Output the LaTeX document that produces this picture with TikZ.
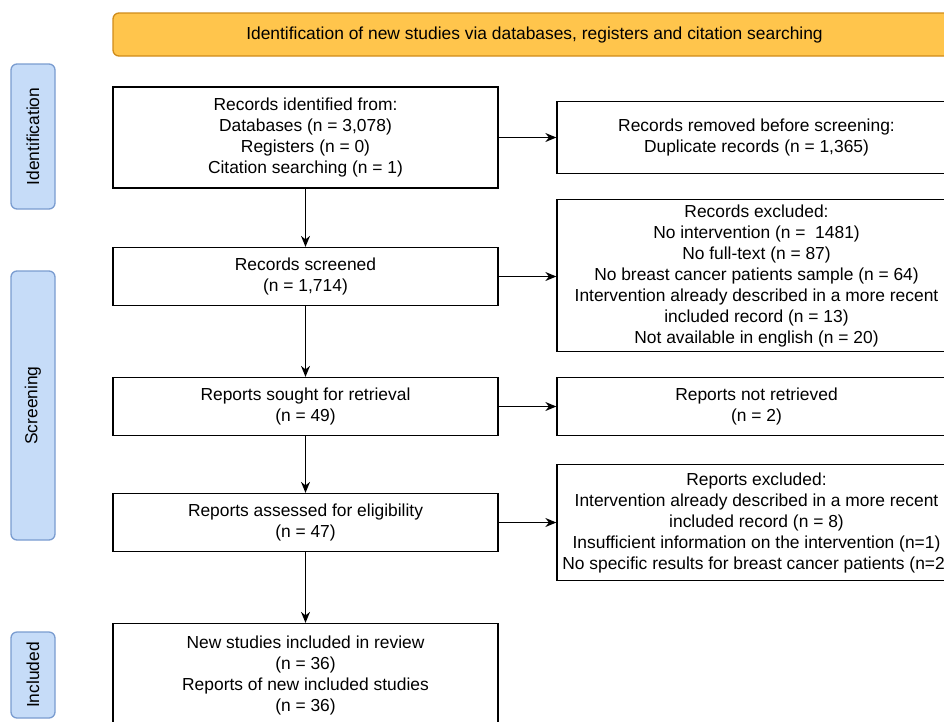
\documentclass[tikz,border=0pt]{standalone}
\usepackage{fontspec}
\setmainfont{Liberation Sans}
\usetikzlibrary{arrows.meta}
\definecolor{bannerfill}{HTML}{FFC54C}
\definecolor{bannerline}{HTML}{D08C1A}
\definecolor{tabfill}{HTML}{C6DCF8}
\definecolor{tabline}{HTML}{7A9CD0}
\begin{document}
\begin{tikzpicture}[x=1pt,y=-1pt,
  every node/.style={font=\fontsize{17.4}{21}\selectfont, inner sep=0pt, align=center},
  box/.style={draw=black, line width=1.3pt, fill=white, minimum width=385pt},
  rbox/.style={draw=black, line width=1.3pt, fill=white, minimum width=399pt},
  banner/.style={draw=bannerline, line width=1.3pt, fill=bannerfill, rounded corners=6pt},
  phase/.style={draw=tabline, line width=1.3pt, fill=tabfill, rounded corners=6pt, minimum height=44pt, rotate=90},
  arr/.style={draw=black, line width=1.3pt, -{Stealth[length=11pt,width=9pt]}}]
\useasboundingbox (0,0) rectangle (944,721);
\clip (0,0) rectangle (944,721);

\node[banner, minimum width=843pt, minimum height=43pt] (ban) at (534.5,34.5) {Identification of new studies via databases, registers and citation searching};

\node[phase, minimum width=145pt] (tid) at (33,136.5) {Identification};
\node[phase, minimum width=269pt] (tsc) at (33,405.5) {Screening};
\node[phase, minimum width=86pt] (tin) at (33,675) {Included};

\node[box, minimum height=101pt] (b1) at (305.5,137.5) {Records identified from:\\Databases (n = 3,078)\\Registers (n = 0)\\Citation searching (n = 1)};
\node[box, minimum height=58pt] (b2) at (305.5,276.5) {Records screened\\(n = 1,714)};
\node[box, minimum height=58pt] (b3) at (305.5,406.5) {Reports sought for retrieval\\(n = 49)};
\node[box, minimum height=58pt] (b4) at (305.5,522.5) {Reports assessed for eligibility\\(n = 47)};
\node[box, minimum height=104pt] (b5) at (305.5,675.5) {New studies included in review\\(n = 36)\\Reports of new included studies\\(n = 36)};

\node[rbox, minimum height=72pt] (r1) at (756.5,137.5) {Records removed before screening:\\Duplicate records (n = 1,365)};
\node[rbox, minimum height=152pt] (r2) at (756.5,275.5) {Records excluded:\\No intervention (n = \ 1481)\\No full-text (n = 87)\\No breast cancer patients sample (n = 64)\\Intervention already described in a more recent\\included record (n = 13)\\Not available in english (n = 20)};
\node[rbox, minimum height=58pt] (r3) at (756.5,406.5) {Reports not retrieved\\(n = 2)};
\node[rbox, minimum height=116pt] (r4) at (756.5,522.5) {Reports excluded:\\Intervention already described in a more recent\\included record (n = 8)\\Insufficient information on the intervention (n=1)\\No specific results for breast cancer patients (n=2)};

\draw[arr] (b1) -- (b2);
\draw[arr] (b2) -- (b3);
\draw[arr] (b3) -- (b4);
\draw[arr] (b4) -- (b5);
\draw[arr] (b1.east) -- (b1.east -| r1.west);
\draw[arr] (b2.east) -- (b2.east -| r2.west);
\draw[arr] (b3.east) -- (b3.east -| r3.west);
\draw[arr] (b4.east) -- (b4.east -| r4.west);
\end{tikzpicture}
\end{document}
